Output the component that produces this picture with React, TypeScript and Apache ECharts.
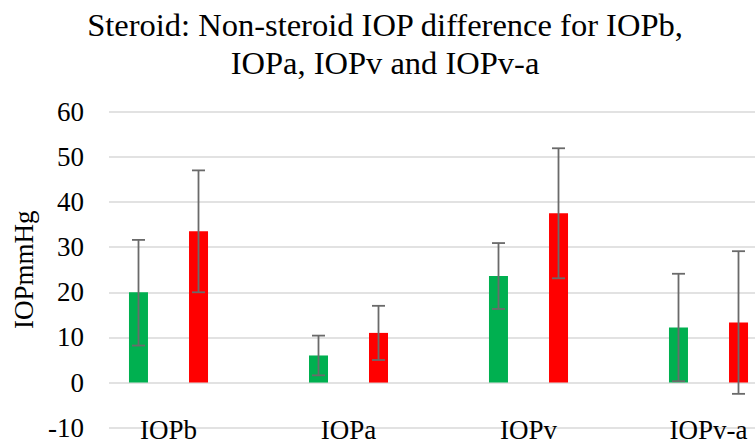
import React, { useEffect, useRef } from "react";
import * as echarts from "echarts";

const categories = ["IOPb", "IOPa", "IOPv", "IOPv-a"];
const steroidValues = [20.0, 6.0, 23.6, 12.2];
const steroidLow = [8.2, 1.6, 16.3, 0.3];
const steroidHigh = [31.6, 10.4, 30.9, 24.1];
const nonSteroidValues = [33.5, 11.0, 37.5, 13.3];
const nonSteroidLow = [20.0, 5.0, 23.1, -2.5];
const nonSteroidHigh = [47.0, 17.0, 51.9, 29.1];
const yTicks = { min: -10, max: 60, interval: 10 };

const FONT = "Liberation Serif";

export default function App() {
  const ref = useRef<HTMLDivElement>(null);
  useEffect(() => {
    if (!ref.current) return;
    const chart = echarts.init(ref.current, undefined, { renderer: "svg" });
    const offset = 30;
    const errRender = (shift: number) => (params: any, api: any) => {
      const cat = api.value(0);
      const lo = api.coord([cat, api.value(1)]);
      const hi = api.coord([cat, api.value(2)]);
      const x = lo[0] + shift;
      const cap = 6.5;
      const style = { stroke: "#6a6a6a", lineWidth: 1.8 };
      return {
        type: "group",
        children: [
          { type: "line", shape: { x1: x, y1: lo[1], x2: x, y2: hi[1] }, style },
          { type: "line", shape: { x1: x - cap, y1: lo[1], x2: x + cap, y2: lo[1] }, style },
          { type: "line", shape: { x1: x - cap, y1: hi[1], x2: x + cap, y2: hi[1] }, style },
        ],
      };
    };
    chart.setOption({
      animation: false,
      backgroundColor: "#ffffff",
      title: {
        text: "Steroid: Non-steroid IOP difference for IOPb,\nIOPa, IOPv and IOPv-a",
        left: 380,
        top: 1,
        textAlign: "center",
        textStyle: { fontFamily: FONT, fontSize: 32.5, fontWeight: "normal", color: "#000", lineHeight: 38 },
      },
      grid: [
        { left: 109, right: 0, top: 111.7, bottom: 17.3, outerBoundsMode: "none", containLabel: false },
        { left: 78.5, width: 720, top: 111.7, bottom: 17.3, outerBoundsMode: "none", containLabel: false },
      ],
      xAxis: [
        { gridIndex: 0, type: "value", min: 0, max: 1, show: false },
        {
          gridIndex: 1,
          type: "category",
          data: categories,
          axisLine: { show: false, onZero: false },
          axisTick: { show: false },
          axisLabel: {
            fontFamily: FONT,
            fontSize: 27,
            lineHeight: 18,
            color: "#000",
            margin: -7,
            hideOverlap: false,
          },
        },
      ],
      yAxis: [
        {
          gridIndex: 0,
          type: "value",
          min: yTicks.min,
          max: yTicks.max,
          interval: yTicks.interval,
          name: "IOPmmHg",
          nameLocation: "middle",
          nameRotate: 90,
          nameGap: 68,
          nameTextStyle: { fontFamily: FONT, fontSize: 27, color: "#000" },
          axisLine: { show: false },
          axisTick: { show: false },
          axisLabel: { fontFamily: FONT, fontSize: 27, color: "#000", margin: 25 },
          splitLine: { lineStyle: { color: "#d9d9d9", width: 1.5 } },
        },
        {
          gridIndex: 1,
          type: "value",
          min: yTicks.min,
          max: yTicks.max,
          interval: yTicks.interval,
          show: false,
          splitLine: { show: false },
        },
      ],
      series: [
        {
          type: "bar",
          name: "Steroid",
          xAxisIndex: 1,
          yAxisIndex: 1,
          data: steroidValues,
          barWidth: 19,
          barGap: "216%",
          itemStyle: { color: "#00B050" },
        },
        {
          type: "bar",
          name: "Non-steroid",
          xAxisIndex: 1,
          yAxisIndex: 1,
          data: nonSteroidValues,
          barWidth: 19,
          barGap: "216%",
          itemStyle: { color: "#FF0000" },
        },
        {
          type: "custom",
          xAxisIndex: 1,
          yAxisIndex: 1,
          renderItem: errRender(-offset),
          data: categories.map((_, i) => [i, steroidLow[i], steroidHigh[i]]),
          z: 10,
        },
        {
          type: "custom",
          xAxisIndex: 1,
          yAxisIndex: 1,
          renderItem: errRender(offset),
          data: categories.map((_, i) => [i, nonSteroidLow[i], nonSteroidHigh[i]]),
          z: 10,
        },
      ],
    });
    return () => chart.dispose();
  }, []);
  return (
    <div
      ref={ref}
      style={{ position: "fixed", left: 0, top: 0, width: 755, height: 445, background: "#fff" }}
    />
  );
}
